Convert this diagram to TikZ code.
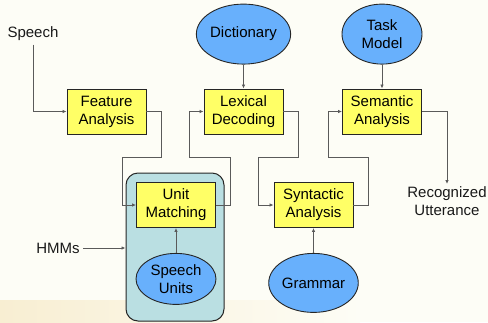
\documentclass[tikz,border=0pt]{standalone}
\usepackage{fontspec}
\setmainfont{Liberation Sans}
\usetikzlibrary{arrows.meta,positioning,shapes.geometric}

\definecolor{boxyellow}{HTML}{FFFF66}
\definecolor{ovalblue}{HTML}{68B0FC}
\definecolor{hmmteal}{HTML}{BADFE2}
\definecolor{wirecol}{HTML}{5A5A5A}
\definecolor{paper}{HTML}{FDFDF6}
\definecolor{sand}{HTML}{F8EED2}

\begin{document}
\begin{tikzpicture}[
    x=1pt, y=-1pt,
    font=\fontsize{15}{18}\selectfont,
    box/.style={rectangle, draw=black!85, line width=0.9pt, fill=boxyellow,
                align=center, minimum width=79pt, minimum height=45pt, inner sep=0pt},
    oval/.style={ellipse, draw=black!85, line width=0.9pt, fill=ovalblue,
                 align=center, minimum width=80pt, minimum height=60pt, inner sep=0pt},
    hmmbox/.style={rectangle, rounded corners=12pt, draw=black!85, line width=1pt,
                   fill=hmmteal, minimum width=98pt, minimum height=148pt},
    lbl/.style={align=center, text=black!90},
    flow/.style={-{Latex[length=4pt,width=3.5pt]}, draw=wirecol, line width=0.8pt}
]
% page and the faint sand band along the bottom
\fill[paper] (0,0) rectangle (488,322);
\shade[left color=sand, right color=paper] (0,300) rectangle (360,322);
\useasboundingbox (0,0) rectangle (488,322);

% HMM container behind the unit matching stage
\node[hmmbox] (hmm) at (175,247) {};

% processing stages
\node[box] (fa)  at (106.5,111.5) {Feature\\Analysis};
\node[box] (ld)  at (243.5,111.5) {Lexical\\Decoding};
\node[box] (sa)  at (382,111.5)   {Semantic\\Analysis};
\node[box] (um)  at (176,205)     {Unit\\Matching};
\node[box] (syn) at (313.5,205)   {Syntactic\\Analysis};

% knowledge sources
\node[oval, above=24pt of ld] (dict) {Dictionary};
\node[oval, above=24pt of sa] (task) {Task\\Model};
\node[oval, below=25pt of um, minimum height=51pt] (units) {Speech\\Units};
\node[oval, below=25pt of syn, minimum height=59pt] (gram) {Grammar};

% free labels
\node[lbl] (speech) at (33,34) {Speech};
\node[lbl] (hmms) at (58,248) {HMMs};
\node[lbl, anchor=north, inner sep=2pt] (utt) at (447,184) {Recognized\\Utterance};

% inputs
\draw[flow] (speech.south) |- (fa.west);
\draw[flow] (dict) -- (ld);
\draw[flow] (task) -- (sa);
\draw[flow] (units) -- (um);
\draw[flow] (gram) -- (syn);
\draw[flow] (hmms.east) -- (hmm.west |- hmms.east);

% stage to stage
\draw[flow] (fa.east) -- ++(15,0) -- ++(0,45.5) -| ([xshift=-14pt]um.west) -- (um.west);
\draw[flow] (um.east) -- ++(14,0) -- ++(0,-48) -| ([xshift=-14pt]ld.west) -- (ld.west);
\draw[flow] (ld.east) -- ++(15,0) -- ++(0,45.5) -| ([xshift=-15pt]syn.west) -- (syn.west);
\draw[flow] (syn.east) -- ++(15,0) -- ++(0,-48) -| ([xshift=-14pt]sa.west) -- (sa.west);
\draw[flow] (sa.east) -| (utt.north);
\end{tikzpicture}
\end{document}
